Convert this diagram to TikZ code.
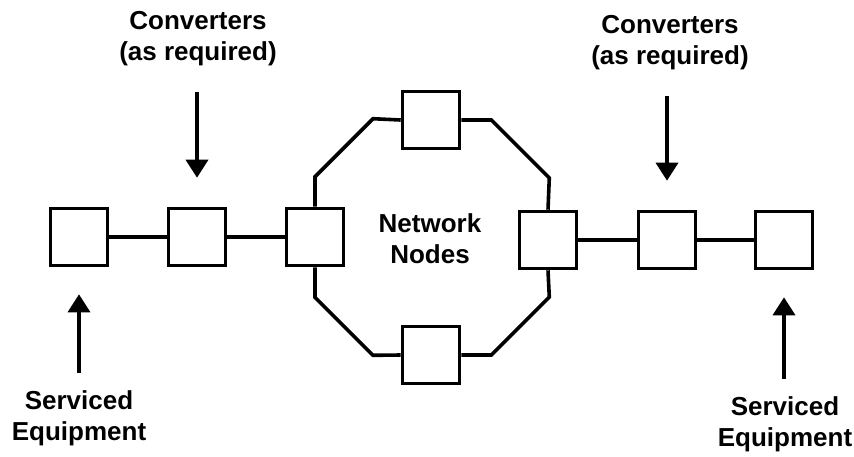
\documentclass[tikz,border=0pt]{standalone}
\usepackage{fontspec}
\setmainfont{Liberation Sans}
\usetikzlibrary{arrows.meta}

\begin{document}
\begin{tikzpicture}[x=1pt,y=-1pt,
    box/.style={draw,line width=3.6pt,minimum width=57pt,minimum height=57pt,inner sep=0pt},
    link/.style={line width=3.6pt,line join=miter},
    arr/.style={line width=3.6pt,-{Triangle[width=22pt,length=18pt]}},
    lbl/.style={align=center,font=\fontsize{26}{31}\selectfont\bfseries}]
    \useasboundingbox (0,0) rectangle (854,456);
    % boxes
    \node[box] (se1) at (79,237) {};
    \node[box] (cv1) at (197,237) {};
    \node[box] (ln) at (315,237) {};
    \node[box] (top) at (431,120) {};
    \node[box] (bot) at (431,355) {};
    \node[box] (rn) at (548,240) {};
    \node[box] (cv2) at (667,240) {};
    \node[box] (se2) at (784,240) {};
    % labels
    \node[lbl] (cl1) at (198,39) {Converters\\(as required)};
    \node[lbl] (cl2) at (670,43) {Converters\\(as required)};
    \node[lbl] (net) at (430,239) {Network\\Nodes};
    \node[lbl] (sl1) at (79,418) {Serviced\\Equipment};
    \node[lbl] (sl2) at (785,424) {Serviced\\Equipment};
    % chain
    \draw[link] (se1) -- (cv1);
    \draw[link] (cv1) -- (ln);
    \draw[link] (rn) -- (cv2);
    \draw[link] (cv2) -- (se2);
    % ring
    \draw[link] (ln.north) -- ++(0,-30) -- ++(58,-58) -- (top.west);
    \draw[link] (top.east) -- ++(30,0) -- ++(58,58) -- (rn.north);
    \draw[link] (ln.south) -- ++(0,30) -- ++(58,58) -- (bot.west);
    \draw[link] (bot.east) -- ++(30,0) -- ++(58,-58) -- (rn.south);
    % arrows
    \draw[arr,shorten <=22pt,shorten >=29pt] (cl1.south -| cv1) -- (cv1.north);
    \draw[arr,shorten <=22pt,shorten >=29pt] (cl2.south -| cv2) -- (cv2.north);
    \draw[arr,shorten <=14pt,shorten >=27pt] (sl1.north -| se1) -- (se1.south);
    \draw[arr,shorten <=14pt,shorten >=27pt] (sl2.north -| se2) -- (se2.south);
\end{tikzpicture}
\end{document}
